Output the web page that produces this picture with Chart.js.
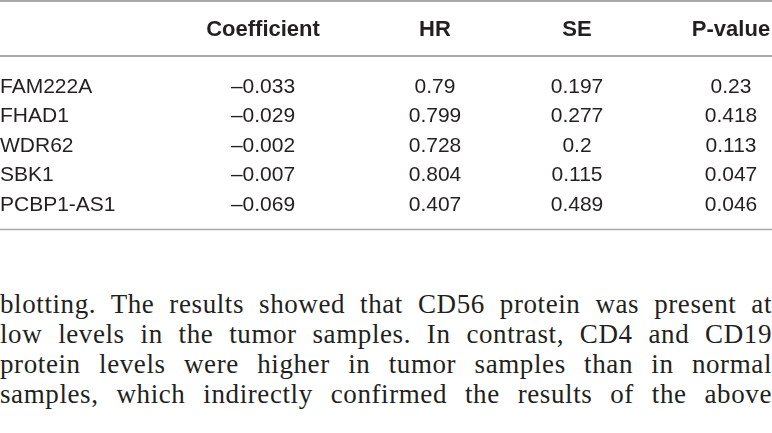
<!DOCTYPE html>
<html>
<head>
<meta charset="utf-8">
<script src="https://cdn.jsdelivr.net/npm/chart.js@4.4.1/dist/chart.umd.min.js"></script>
<style>
  html, body { margin:0; padding:0; background:#fff; }
  body { width:772px; height:433px; overflow:hidden; position:relative; }
  #wrap { position:absolute; left:0; top:0; width:772px; height:240px; }
  #texto {
    position:absolute; left:0; top:289px; width:772px;
    font-family:"Liberation Serif", "Times New Roman", serif;
    font-size:27px; line-height:30px; color:#231f20; letter-spacing:0.6px;
  }
  #texto div { text-align:justify; text-align-last:justify; }
</style>
</head>
<body>
<div id="wrap"><canvas id="tabla"></canvas></div>
<div id="texto">
  <div>blotting. The results showed that CD56 protein was present at</div>
  <div>low levels in the tumor samples. In contrast, CD4 and CD19</div>
  <div>protein levels were higher in tumor samples than in normal</div>
  <div>samples, which indirectly confirmed the results of the above</div>
</div>
<script>
// datos de la tabla
const genes = ["FAM222A", "FHAD1", "WDR62", "SBK1", "PCBP1-AS1"];
const columnas = ["Coefficient", "HR", "SE", "P-value"];
const coeficiente = [-0.033, -0.029, -0.002, -0.007, -0.069];
const hr = [0.79, 0.799, 0.728, 0.804, 0.407];
const se = [0.197, 0.277, 0.2, 0.115, 0.489];
const pValor = [0.23, 0.418, 0.113, 0.047, 0.046];

const valores = [coeficiente, hr, se, pValor];

// centro de cada columna sobre el eje x (0..772)
const colX = [263, 435, 577, 731];

const TXT = "#231f20";
const LINEA = "#a7a9ac";

function fmt(v){
  return (v < 0 ? "\u2013" : "") + String(Math.abs(v));
}

const tablaPlugin = {
  id: "tablaTexto",
  afterDatasetsDraw(chart){
    const { ctx, chartArea, scales: { x, y } } = chart;
    ctx.save();

    // reglas horizontales
    ctx.strokeStyle = LINEA;
    ctx.lineWidth = 2;
    ctx.beginPath(); ctx.moveTo(chartArea.left, 1); ctx.lineTo(chartArea.right, 1); ctx.stroke();
    ctx.beginPath(); ctx.moveTo(chartArea.left, chartArea.top - 14.5); ctx.lineTo(chartArea.right, chartArea.top - 14.5); ctx.stroke();
    ctx.lineWidth = 1.5;
    ctx.beginPath(); ctx.moveTo(chartArea.left, chartArea.bottom + 11.5); ctx.lineTo(chartArea.right, chartArea.bottom + 11.5); ctx.stroke();

    // encabezados
    ctx.fillStyle = TXT;
    ctx.textBaseline = "alphabetic";
    ctx.textAlign = "center";
    ctx.font = 'bold 22px "Liberation Sans", Arial, sans-serif';
    columnas.forEach((c, i) => {
      ctx.fillText(c, x.getPixelForValue(colX[i]), chartArea.top - 34.5);
    });

    // nombres de fila
    ctx.font = '21px "Liberation Sans", Arial, sans-serif';
    ctx.textAlign = "left";
    genes.forEach((g, i) => {
      ctx.fillText(g, x.getPixelForValue(0), y.getPixelForValue(i) + 7.5);
    });

    // celdas
    ctx.textAlign = "center";
    chart.data.datasets.forEach((ds, d) => {
      chart.getDatasetMeta(d).data.forEach((pt, i) => {
        ctx.fillText(fmt(ds.data[i].v), pt.x, pt.y + 7.5);
      });
    });

    ctx.restore();
  }
};

new Chart(document.getElementById("tabla"), {
  type: "scatter",
  data: {
    datasets: columnas.map((c, k) => ({
      label: c,
      data: genes.map((g, i) => ({ x: colX[k], y: g, v: valores[k][i] })),
      pointRadius: 0,
      pointHoverRadius: 0
    }))
  },
  options: {
    responsive: true,
    maintainAspectRatio: false,
    animation: false,
    events: [],
    layout: { padding: { top: 70.5, bottom: 22, left: 0, right: 0 } },
    plugins: { legend: { display: false }, tooltip: { enabled: false } },
    scales: {
      x: { type: "linear", min: 0, max: 772, display: false },
      y: { type: "category", labels: genes, offset: true, display: false }
    }
  },
  plugins: [tablaPlugin]
});
</script>
</body>
</html>
